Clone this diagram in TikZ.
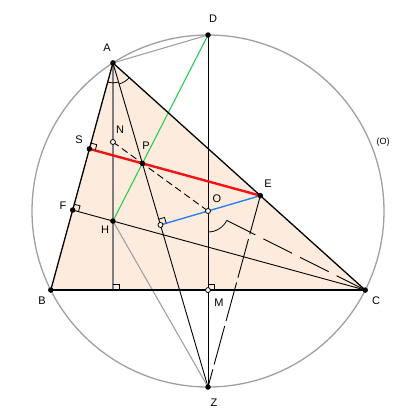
\documentclass[tikz,border=0pt]{standalone}
\usepackage{fontspec}
\setmainfont{Liberation Sans}
\usetikzlibrary{calc}
\definecolor{peach}{RGB}{253,236,222}
\definecolor{circgray}{RGB}{160,160,160}
\definecolor{altgray}{RGB}{125,125,125}
\definecolor{grn}{RGB}{40,205,80}
\definecolor{blu}{RGB}{40,130,240}
\definecolor{rd}{RGB}{240,20,20}
\tikzset{
  thinblack/.style={black,line width=0.9pt},
  edge/.style={black,line width=1.3pt},
  ramk/.style={black,line width=0.8pt},
  dot/.style={circle,fill=black,inner sep=0pt,minimum size=5.5pt},
  odot/.style={circle,draw=black,fill=white,line width=0.8pt,inner sep=0pt,minimum size=5pt},
  lbl/.style={font=\fontsize{11}{13}\selectfont,inner sep=0pt}
}
\newcommand\ramark[3]{\draw[ramk] ($(#1)!6pt!(#2)$) -- ($(#1)!6pt!(#2)+(#1)!6pt!(#3)-(#1)$) -- ($(#1)!6pt!(#3)$);}
\begin{document}
\begin{tikzpicture}[x=1pt,y=-1pt]
\useasboundingbox (0,0) rectangle (410,418);
\coordinate (O) at (208,211);
\coordinate (A) at ($(O)+(237.3:176)$);
\coordinate (B) at ($(O)+(153.3:176)$);
\coordinate (C) at ($(O)+(26.7:176)$);
\coordinate (D) at ($(O)+(270:176)$);
\coordinate (Z) at ($(O)+(90:176)$);
\coordinate (M) at ($(B)!0.5!(C)$);
\coordinate (H) at ($(A)+(B)+(C)-(O)-(O)$);
\coordinate (Ha) at ($(B)!(A)!(C)$);
\coordinate (N) at ($(A)!0.5!(H)$);
\coordinate (F) at ($(A)!(C)!(B)$);
\coordinate (P) at (intersection of A--Z and H--D);
\coordinate (K) at ($(A)!(O)!(Z)$);
\coordinate (E) at (intersection of K--O and A--C);
\coordinate (S) at (intersection of E--P and A--B);
\coordinate (Oc) at ($(O)!20pt!(C)$);
% fill
\fill[peach] (A) -- (B) -- (C) -- cycle;
% circle
\draw[circgray,line width=1.3pt] (O) circle (176);
\draw[circgray,line width=1.1pt] (A) -- (D);
% lines
\draw[thinblack] (D) -- (Z);
\draw[altgray,line width=1.2pt] (A) -- (Ha);
\draw[thinblack] (A) -- (Z);
\draw[thinblack] (F) -- (C);
\draw[circgray,line width=1.1pt] (H) -- (Z);
\draw[thinblack,dash pattern=on 7pt off 4pt] (N) -- (O);
\draw[thinblack,dash pattern=on 32pt off 9pt] (C) -- (Oc);
\draw[thinblack,dash pattern=on 40pt off 5pt] (E) -- (Z);
\draw[grn,line width=1.1pt] (H) -- (D);
\draw[blu,line width=1.4pt] (K) -- (E);
\draw[rd,line width=2.4pt] (S) -- (E);
% triangle edges
\draw[edge] (B) -- (A) -- (C);
\draw[black,line width=2.3pt] (B) -- (C);
% right angle marks
\ramark{S}{A}{E}
\ramark{F}{A}{C}
\ramark{Ha}{A}{C}
\ramark{M}{O}{C}
\ramark{K}{A}{O}
% angle arcs (canvas angles are the negatives of the flipped ones)
\draw[ramk] ($(A)+(105.5:20)$) arc[start angle=-105.5,end angle=-73.6,radius=20pt];
\draw[ramk] ($(A)+(73.6:22)$) arc[start angle=-73.6,end angle=-42,radius=22pt];
\draw[ramk] ($(O)+(90:21)$) arc[start angle=-90,end angle=-26.7,radius=21pt];
% points
\foreach \p in {A,B,C,D,Z,S,F,H,P,E} \node[dot] (d\p) at (\p) {};
\foreach \p in {N,O,M,K} \node[odot] (d\p) at (\p) {};
% labels
\node[lbl] (lA) at (107,48) {A};
\node[lbl] (lB) at (42,301) {B};
\node[lbl] (lC) at (376,301) {C};
\node[lbl] (lD) at (213,19) {D};
\node[lbl] (lZ) at (214,403) {Z};
\node[lbl] (lS) at (79,140) {S};
\node[lbl] (lF) at (63,206) {F};
\node[lbl] (lH) at (105,230) {H};
\node[lbl] (lN) at (120,130) {N};
\node[lbl] (lP) at (146,146) {P};
\node[lbl] (lE) at (268,184) {E};
\node[lbl] (lO) at (217,199) {O};
\node[lbl] (lM) at (219,303) {M};
\node[lbl,font=\fontsize{9}{11}\selectfont] (lOc) at (383,142) {(O)};
\end{tikzpicture}
\end{document}
